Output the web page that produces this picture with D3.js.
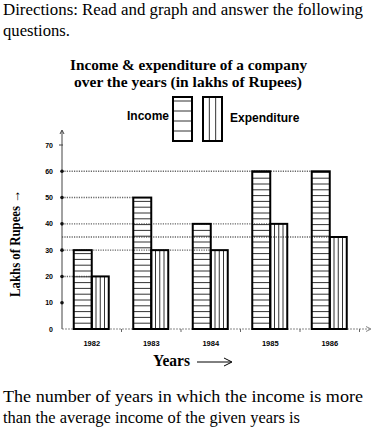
<!DOCTYPE html>
<html>
<head>
<meta charset="utf-8">
<script src="https://cdn.jsdelivr.net/npm/d3@7"></script>
<style>
  body { margin: 0; background: #fff; }
  svg { display: block; }
</style>
</head>
<body>
<div id="chart"></div>
<script>
// data
var years = ["1982", "1983", "1984", "1985", "1986"];
var income = [30, 50, 40, 60, 60];
var expenditure = [20, 30, 30, 40, 35];
var yTicks = [0, 10, 20, 30, 40, 50, 60, 70];

var w = 378, h = 432;

var svg = d3.select("#chart").append("svg")
    .attr("width", w)
    .attr("height", h);

var serif = "'Liberation Serif', 'DejaVu Serif', serif";
var sans = "'Liberation Sans', Arial, sans-serif";

// helper for serif text lines stretched to the reference width
function line(txt, x0, y0, len, size, bold) {
    var t = svg.append("text")
        .attr("x", x0).attr("y", y0)
        .style("font-family", serif).style("font-size", size + "px")
        .style("font-weight", bold ? "bold" : "normal")
        .text(txt);
    if (len) t.attr("textLength", len).attr("lengthAdjust", "spacingAndGlyphs");
    return t;
}

//Question text
line("Directions: Read and graph and answer the following", 3, 15, 360, 16);
line("questions.", 3, 36, 67, 16);

//Title
line("Income & expenditure of a company", 70, 70, 237, 14.5, true);
line("over the years (in lakhs of Rupees)", 74, 87, 228, 14.5, true);

//Scales
var x = d3.scaleBand()
    .domain(years)
    .range([62, 359.5])
    .padding(0);

var y = d3.scaleLinear()
    .domain([0, 70])
    .range([329, 145]);

var barW = 18, expW = 17;
var incX = d => x(d) + x.bandwidth() / 2 - barW;
var expX = d => x(d) + x.bandwidth() / 2;

//Dotted reference lines to the farthest bar with each value
var bars = [];
years.forEach(function(yr, i) {
    bars.push({v: income[i], x: incX(yr)});
    bars.push({v: expenditure[i], x: expX(yr)});
});
var refs = d3.rollups(bars, g => d3.max(g, b => b.x), b => b.v);

svg.append("g").selectAll("line")
    .data(refs)
    .join("line")
    .attr("x1", 62).attr("x2", d => d[1])
    .attr("y1", d => y(d[0])).attr("y2", d => y(d[0]))
    .attr("stroke", "#666")
    .attr("stroke-width", 1.4)
    .attr("stroke-dasharray", "1.2,1.2");

//Axes
svg.append("line")
    .attr("x1", 62).attr("x2", 370)
    .attr("y1", y(0)).attr("y2", y(0))
    .attr("stroke", "#888").attr("stroke-width", 1.2)
    .attr("stroke-dasharray", "2,1");
svg.append("path")
    .attr("d", "M366,326.5 L371,329 L366,331.5")
    .attr("fill", "none").attr("stroke", "#888");
svg.append("line")
    .attr("x1", 62).attr("x2", 62)
    .attr("y1", y(0)).attr("y2", 131)
    .attr("stroke", "#444").attr("stroke-width", 1);
svg.append("path")
    .attr("d", "M60,134 L62,130 L64,134")
    .attr("fill", "none").attr("stroke", "#444");

//x axis small ticks at band edges
svg.append("g").selectAll("line")
    .data(years)
    .join("line")
    .attr("x1", d => x(d) + x.bandwidth()).attr("x2", d => x(d) + x.bandwidth())
    .attr("y1", y(0)).attr("y2", y(0) + 3)
    .attr("stroke", "#666");

//y ticks
svg.append("g").selectAll("text")
    .data(yTicks)
    .join("text")
    .attr("x", 53).attr("y", d => y(d) + 2.5)
    .attr("text-anchor", "end")
    .style("font-family", sans).style("font-size", "7px").style("font-weight", "bold")
    .text(d => d);
svg.append("g").selectAll("circle")
    .data(yTicks.filter(d => d > 0 && d < 70))
    .join("circle")
    .attr("cx", 62).attr("cy", d => y(d))
    .attr("r", 1.8).attr("fill", "#111");
svg.append("line")
    .attr("x1", 59).attr("x2", 63)
    .attr("y1", y(70)).attr("y2", y(70))
    .attr("stroke", "#444");

//Bars with hatching
function hLines(g, x0, bw, top, bottom, step) {
    for (var yy = bottom - step; yy > top + 1; yy -= step) {
        g.append("line")
            .attr("x1", x0).attr("x2", x0 + bw)
            .attr("y1", yy).attr("y2", yy)
            .attr("stroke", "#333").attr("stroke-width", 1);
    }
}
function vLines(g, x0, bw, top, bottom, n) {
    for (var k = 1; k <= n; k++) {
        var xx = x0 + bw * k / (n + 1);
        g.append("line")
            .attr("x1", xx).attr("x2", xx)
            .attr("y1", top).attr("y2", bottom)
            .attr("stroke", "#333").attr("stroke-width", 1);
    }
}

var groups = svg.append("g").selectAll("g")
    .data(years)
    .join("g");

groups.each(function(yr, i) {
    var g = d3.select(this);
    var xi = incX(yr), xe = expX(yr);
    hLines(g, xi, barW, y(income[i]), y(0), 5.8);
    vLines(g, xe, expW, y(expenditure[i]), y(0), 3);
    g.append("rect")
        .attr("x", xi).attr("y", y(income[i]))
        .attr("width", barW).attr("height", y(0) - y(income[i]))
        .attr("fill", "none").attr("stroke", "#000").attr("stroke-width", 2);
    g.append("rect")
        .attr("x", xe).attr("y", y(expenditure[i]))
        .attr("width", expW).attr("height", y(0) - y(expenditure[i]))
        .attr("fill", "none").attr("stroke", "#000").attr("stroke-width", 2);
});

//Year labels
svg.append("g").selectAll("text")
    .data(years)
    .join("text")
    .attr("x", d => x(d) + x.bandwidth() / 2)
    .attr("y", 346)
    .attr("text-anchor", "middle")
    .style("font-family", sans).style("font-size", "7.5px").style("font-weight", "bold")
    .text(d => d);

//Axis titles
line("Years", 153, 366, 37, 16, true);
svg.append("line")
    .attr("x1", 197).attr("x2", 231)
    .attr("y1", 362).attr("y2", 362)
    .attr("stroke", "#000").attr("stroke-width", 1);
svg.append("path")
    .attr("d", "M224,358 L232,362 L224,366")
    .attr("fill", "none").attr("stroke", "#000");

svg.append("text")
    .attr("transform", "translate(20,297) rotate(-90)")
    .attr("textLength", 107).attr("lengthAdjust", "spacingAndGlyphs")
    .style("font-family", serif).style("font-size", "14px").style("font-weight", "bold")
    .text("Lakhs of Rupees \u2192");

//Legend
svg.append("text")
    .attr("x", 127).attr("y", 120)
    .style("font-family", sans).style("font-size", "12px").style("font-weight", "bold")
    .text("Income");
var lg1 = svg.append("g");
hLines(lg1, 173, 19, 97, 141, 10);
lg1.append("rect").attr("x", 173).attr("y", 97).attr("width", 19).attr("height", 44)
    .attr("fill", "none").attr("stroke", "#000").attr("stroke-width", 2);
var lg2 = svg.append("g");
vLines(lg2, 203, 19, 97, 141, 2);
lg2.append("rect").attr("x", 203).attr("y", 97).attr("width", 19).attr("height", 44)
    .attr("fill", "none").attr("stroke", "#000").attr("stroke-width", 2);
svg.append("text")
    .attr("x", 230).attr("y", 122)
    .style("font-family", sans).style("font-size", "12px").style("font-weight", "bold")
    .text("Expenditure");

//Question
line("The number of years in which the income is more", 3, 402, 360, 16);
line("than the average income of the given years is", 3, 423, 297, 16);
</script>
</body>
</html>
